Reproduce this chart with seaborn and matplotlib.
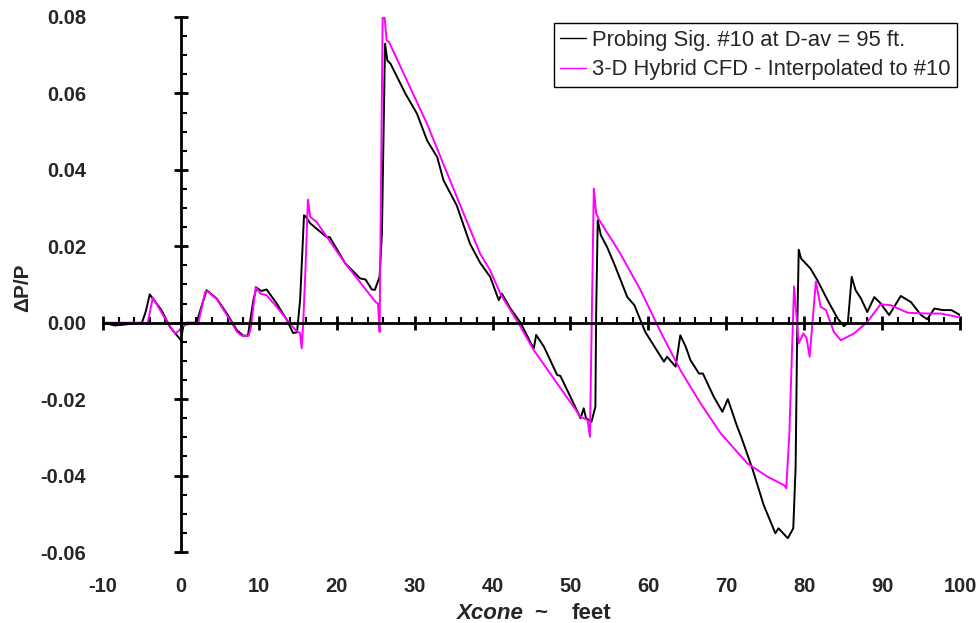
import matplotlib
matplotlib.use("Agg")
import matplotlib.pyplot as plt
from matplotlib.ticker import MultipleLocator, FormatStrFormatter
import pandas as pd
import seaborn as sns

# Probing signature #10 (black)
probe_x = [-10, -8.5, -7.8, -5.0, -4.5, -4.0, -3.6, -2.5, -1.4, 0.0, 0.3, 0.7,
           2.0, 2.6, 3.3, 4.6, 5.9, 7.2, 8.0, 8.6, 9.3, 9.7, 10.3, 11.0, 12.3,
           13.6, 14.4, 14.9, 15.3, 15.8, 16.0, 16.6, 18.7, 19.1, 21.1, 23.0,
           23.7, 24.5, 24.9, 25.5, 25.8, 26.2, 26.5, 26.9, 28.8, 30.3, 31.6,
           32.9, 33.7, 35.4, 37.1, 38.4, 39.7, 40.8, 41.2, 42.3, 43.6, 44.9,
           45.3, 45.6, 46.6, 48.3, 48.7, 50.0, 51.3, 51.7, 52.0, 52.7, 53.2,
           53.3, 53.5, 53.9, 54.7, 55.6, 57.3, 58.2, 59.6, 62.0, 62.4, 63.5,
           64.1, 64.8, 65.4, 66.5, 67.0, 68.4, 69.5, 70.2, 71.4, 71.9, 73.4,
           74.8, 76.3, 76.7, 77.9, 78.6, 78.9, 79.1, 79.3, 79.6, 80.8, 81.7,
           83.0, 84.3, 85.1, 85.6, 86.1, 86.6, 87.3, 88.1, 89.0, 89.8, 90.9,
           92.4, 93.7, 95.0, 95.8, 96.7, 97.8, 98.9, 100]
probe_y = [0.0, -0.0007, -0.0006, 0.0, 0.003, 0.0074, 0.0063, 0.0033, -0.0011,
           -0.0046, -0.001, 0.0, 0.0, 0.004, 0.0085, 0.0063, 0.0024, -0.002,
           -0.0034, -0.0034, 0.0059, 0.0092, 0.0083, 0.0087, 0.005, 0.0007,
           -0.0027, -0.0025, 0.0059, 0.0281, 0.0278, 0.026, 0.0224, 0.0224,
           0.0155, 0.0116, 0.0113, 0.0087, 0.0086, 0.012, 0.0233, 0.073,
           0.0686, 0.0678, 0.060, 0.0547, 0.0477, 0.0433, 0.0373, 0.0307,
           0.0207, 0.0157, 0.012, 0.0059, 0.0076, 0.0037, 0.0, -0.0053,
           -0.0067, -0.0032, -0.0063, -0.0137, -0.0139, -0.0194, -0.025,
           -0.0224, -0.025, -0.0259, -0.022, 0.0024, 0.0268, 0.0229, 0.0198,
           0.0155, 0.0067, 0.0046, -0.0024, -0.0102, -0.0089, -0.0115, -0.0033,
           -0.0063, -0.0098, -0.0133, -0.0133, -0.0194, -0.0233, -0.020,
           -0.0272, -0.0298, -0.0385, -0.0477, -0.0551, -0.0538, -0.0564,
           -0.0538, -0.0377, -0.0028, 0.0191, 0.0168, 0.0142, 0.0111, 0.0059,
           0.0011, -0.0009, -0.0001, 0.012, 0.0085, 0.0063, 0.0028, 0.0067,
           0.0051, 0.002, 0.007, 0.0054, 0.002, 0.0009, 0.0037, 0.0033, 0.0033,
           0.002]

# 3-D hybrid CFD interpolated to #10 (magenta)
cfd_x = [-10, -5.0, -4.3, -3.6, -2.3, -0.8, -0.3, 0.3, 1.2, 2.2, 3.1, 3.4,
         4.6, 6.3, 7.2, 7.8, 8.7, 9.0, 9.6, 10.2, 11.0, 12.3, 14.0, 14.8, 15.3,
         15.5, 15.7, 16.0, 16.3, 16.6, 17.4, 21.1, 25.0, 25.3, 25.5, 25.9,
         26.1, 26.4, 26.7, 28.8, 31.6, 34.2, 36.3, 38.4, 39.7, 41.0, 43.6,
         45.3, 48.3, 51.3, 52.2, 52.5, 53.0, 53.3, 53.6, 56.4, 59.0, 61.6,
         64.1, 66.7, 69.3, 72.7, 75.3, 77.4, 77.7, 78.1, 78.7, 79.3, 79.9,
         80.3, 80.7, 81.5, 82.1, 82.8, 83.8, 84.7, 86.4, 88.1, 89.8, 91.1,
         93.3, 95.8, 97.5, 100]
cfd_y = [0.0, 0.0, -0.0004, 0.0066, 0.002, -0.0028, -0.0022, -0.0007, -0.0003,
         -0.0004, 0.008, 0.0082, 0.0062, 0.0007, -0.0024, -0.0034, -0.0034,
         -0.0011, 0.0094, 0.0076, 0.0072, 0.0041, -0.0002, -0.0021, -0.0027,
         -0.0067, 0.0, 0.0146, 0.0322, 0.0277, 0.0264, 0.0155, 0.0054, 0.005,
         -0.0024, 0.081, 0.081, 0.0739, 0.0735, 0.0643, 0.052, 0.039, 0.0285,
         0.0181, 0.0137, 0.0076, -0.0011, -0.0072, -0.0159, -0.0246, -0.0255,
         -0.0298, 0.0351, 0.0286, 0.0272, 0.0181, 0.0085, -0.0025, -0.0124,
         -0.0211, -0.029, -0.0368, -0.0403, -0.0425, -0.0433, -0.029, 0.0095,
         -0.0054, -0.0028, -0.004, -0.0089, 0.0108, 0.0042, 0.0033, -0.0024,
         -0.0046, -0.0028, 0.0002, 0.0048, 0.0046, 0.0026, 0.0024, 0.0024,
         0.0014]

x_ticks = [-10, 0, 10, 20, 30, 40, 50, 60, 70, 80, 90, 100]
y_ticks = [-0.06, -0.04, -0.02, 0.00, 0.02, 0.04, 0.06, 0.08]

probe_label = "Probing Sig. #10 at D-av = 95 ft."
cfd_label = "3-D Hybrid CFD - Interpolated to #10"

sns.set_style("white")
plt.rcParams["font.family"] = ["Liberation Sans", "DejaVu Sans"]

fig = plt.figure(figsize=(9.8, 6.23), dpi=100)
ax = fig.add_axes([103 / 980, 71 / 623, 857 / 980, 535 / 623])

probe = pd.DataFrame({"x": probe_x, "y": probe_y})
cfd = pd.DataFrame({"x": cfd_x, "y": cfd_y})
sns.lineplot(data=probe, x="x", y="y", color="black", linewidth=1.4,
             sort=False, estimator=None, label=probe_label, ax=ax)
sns.lineplot(data=cfd, x="x", y="y", color="#ff00ff", linewidth=1.4,
             sort=False, estimator=None, label=cfd_label, ax=ax)

ax.set_xlim(-10, 100)
ax.set_ylim(-0.06, 0.08)

# axes crossing at zero
ax.spines["top"].set_position(("data", 0))
ax.spines["right"].set_position(("data", 0))
ax.spines["top"].set_linewidth(2)
ax.spines["right"].set_linewidth(2)
ax.spines["top"].set_color("black")
ax.spines["right"].set_color("black")
ax.spines["bottom"].set_visible(False)
ax.spines["left"].set_visible(False)

ax.set_xticks(x_ticks)
ax.set_yticks(y_ticks)
ax.xaxis.set_minor_locator(MultipleLocator(2))
ax.yaxis.set_minor_locator(MultipleLocator(0.005))
ax.xaxis.set_major_formatter(FormatStrFormatter("%d"))
ax.yaxis.set_major_formatter(FormatStrFormatter("%.2f"))

ax.tick_params(axis="x", which="both", bottom=False, top=True,
               labelbottom=True, labeltop=False)
ax.tick_params(axis="y", which="both", left=False, right=True,
               labelleft=True, labelright=False)
ax.tick_params(which="major", direction="inout", length=10, width=2,
               color="black", labelsize=14.5)
ax.tick_params(which="minor", direction="out", length=4, width=1.5,
               color="black")
ax.tick_params(axis="x", which="major", pad=13)
ax.tick_params(axis="y", which="major", pad=7)
for lab in ax.get_xticklabels() + ax.get_yticklabels():
    lab.set_fontweight("bold")

ax.set_xlabel("")
ax.set_ylabel("ΔP/P", fontsize=15, fontweight="bold")
ax.yaxis.set_label_coords(-0.083, 0.493)
ax.text(0.490, -0.125, "Xcone", transform=ax.transAxes, ha="right",
        va="baseline", fontsize=16, fontweight="bold", style="italic")
ax.text(0.511, -0.125, "~", transform=ax.transAxes, ha="center",
        va="baseline", fontsize=16, fontweight="bold")
ax.text(0.547, -0.125, "feet", transform=ax.transAxes, ha="left",
        va="baseline", fontsize=16, fontweight="bold")

leg = ax.legend(loc="upper right", bbox_to_anchor=(957 / 980, 600 / 623),
                bbox_transform=fig.transFigure, borderaxespad=0,
                fontsize=15.8, handlelength=1.2, handletextpad=0.25,
                fancybox=False, framealpha=1, borderpad=0.3,
                labelspacing=0.4)
leg.get_frame().set_edgecolor("black")
leg.get_frame().set_linewidth(1)
for line in leg.get_lines():
    line.set_linewidth(1)

fig.savefig("out.png", dpi=100)
